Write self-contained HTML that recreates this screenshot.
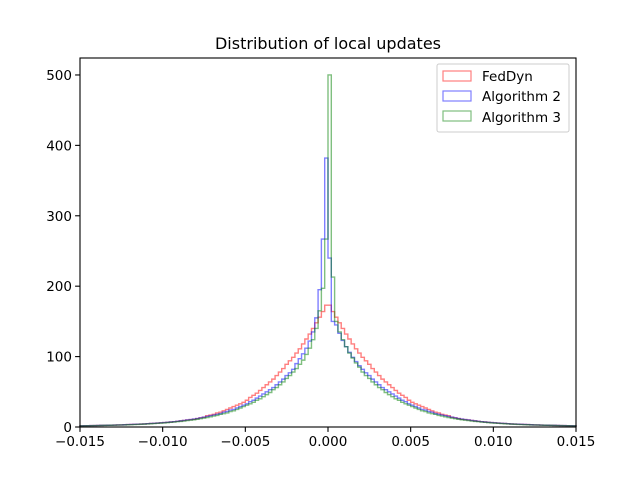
<!DOCTYPE html>
<html><head><meta charset="utf-8"><style>
body{margin:0;background:#fff;}
svg{font-family:"DejaVu Sans","Liberation Sans",sans-serif;}
</style></head><body>
<svg id="chart" width="640" height="480" xmlns="http://www.w3.org/2000/svg">
<rect width="640" height="480" fill="#fff"/>
<text x="328" y="49" font-size="16" text-anchor="middle">Distribution of local updates</text>
<g id="series"></g>
<g id="axes"></g>
<g>
<rect x="437" y="64" width="132" height="68" rx="2" fill="#fff" fill-opacity="0.8" stroke="#ccc"/>
<rect x="443" y="71" width="28" height="10" fill="none" stroke="rgba(255,0,0,0.5)" stroke-width="1.2"/>
<text x="482" y="81" font-size="13.5">FedDyn</text>
<rect x="443" y="91" width="28" height="10" fill="none" stroke="rgba(0,0,255,0.5)" stroke-width="1.2"/>
<text x="482" y="101" font-size="13.5">Algorithm 2</text>
<rect x="443" y="111" width="28" height="10" fill="none" stroke="rgba(0,128,0,0.5)" stroke-width="1.2"/>
<text x="482" y="122" font-size="13.5">Algorithm 3</text>
</g>
</svg>
<script>
// bins: 150 bins of width 0.0002 over [-0.015, 0.015]; halves listed from center outward
const binStart = -0.015;
const binWidth = 0.0002;
const redLeft = [173,164,156,148,140,132,125,118,111,105,99,94,89,83,78,73,68,64,60,56,52,48,45,42,38,35,33,31,29,27,25,23,21,20,18,17,16,14,13,12,11,10.5,10,9.3,8.7,8.1,7.6,7.1,6.7,6.3,6,5.6,5.3,5,4.7,4.4,4.2,4,3.8,3.6,3.4,3.2,3,2.9,2.8,2.6,2.5,2.4,2.3,2.2,2.1,2,1.9,1.8,1.7];
const redRight = [173,164,156,148,140,132,125,118,111,105,99,94,89,83,78,73,68,64,60,56,52,48,45,42,38,35,33,31,29,27,25,23,21,20,18,17,16,14,13,12,11,10.5,10,9.3,8.7,8.1,7.6,7.1,6.7,6.3,6,5.6,5.3,5,4.7,4.4,4.2,4,3.8,3.6,3.4,3.2,3,2.9,2.8,2.6,2.5,2.4,2.3,2.2,2.1,2,1.9,1.8,1.7];
const blueLeft = [382,267,195,155,135,122,112,104,97,90,82,77,73,68,64,60,56,53,50,47,44,41,38,36,33,31,29,27,25,24,22,21,19,18,17,16,15,14,13,12,11.3,10.6,10,9.3,8.7,8.1,7.6,7.1,6.7,6.3,6,5.6,5.3,5,4.7,4.4,4.2,4,3.8,3.6,3.4,3.2,3,2.9,2.8,2.6,2.5,2.4,2.3,2.2,2.1,2,1.9,1.8,1.7];
const blueRight = [240,150,145,133,123,114,106,99,93,87,82,77,73,68,64,60,56,53,50,47,44,41,38,36,33,31,29,27,25,24,22,21,19,18,17,16,15,14,13,12,11.3,10.6,10,9.3,8.7,8.1,7.6,7.1,6.7,6.3,6,5.6,5.3,5,4.7,4.4,4.2,4,3.8,3.6,3.4,3.2,3,2.9,2.8,2.6,2.5,2.4,2.3,2.2,2.1,2,1.9,1.8,1.7];
const greenLeft = [267,197,165,140,124,112,103,95,89,83,78,73,69,64,60,56,53,49,46,43,40,38,35,33,31,29,27,25,23,22,20,19,18,16.5,15.5,14.5,13.5,12.6,11.8,11,10.3,9.7,9.1,8.5,8,7.5,7,6.6,6.2,5.8,5.5,5.2,4.9,4.6,4.4,4.1,3.9,3.7,3.5,3.3,3.2,3.0,2.9,2.7,2.6,2.5,2.4,2.3,2.2,2.1,2,1.9,1.8,1.7,1.6];
const greenRight = [500,213,150,135,124,114,105,98,91,85,78,73,69,64,60,56,53,49,46,43,40,38,35,33,31,29,27,25,23,22,20,19,18,16.5,15.5,14.5,13.5,12.6,11.8,11,10.3,9.7,9.1,8.5,8,7.5,7,6.6,6.2,5.8,5.5,5.2,4.9,4.6,4.4,4.1,3.9,3.7,3.5,3.3,3.2,3.0,2.9,2.7,2.6,2.5,2.4,2.3,2.2,2.1,2,1.9,1.8,1.7,1.6];
const xTicks = [-0.015,-0.010,-0.005,0.000,0.005,0.010,0.015];
const xTickLabels = ["−0.015","−0.010","−0.005","0.000","0.005","0.010","0.015"];
const yTicks = [0,100,200,300,400,500];

const L=80,R=576,T=58,B=427, xMin=-0.015,xMax=0.015,yMax=524.1;
const sx=v=>L+(v-xMin)/(xMax-xMin)*(R-L);
const sy=v=>B-v/yMax*(B-T);
const NS="http://www.w3.org/2000/svg";
function mk(t,a){const e=document.createElementNS(NS,t);for(const k in a)e.setAttribute(k,a[k]);return e;}
const series=document.getElementById('series');
[[redLeft,redRight,'rgba(255,0,0,0.5)','feddyn-histogram'],[blueLeft,blueRight,'rgba(0,0,255,0.5)','algorithm-2-histogram'],[greenLeft,greenRight,'rgba(0,128,0,0.5)','algorithm-3-histogram']].forEach(s=>{
  const counts=s[0].slice().reverse().concat(s[1]);
  let d='M'+sx(binStart)+','+sy(0);
  counts.forEach((c,i)=>{const x0=sx(binStart+i*binWidth),x1=sx(binStart+(i+1)*binWidth);d+=' L'+x0+','+sy(c)+' L'+x1+','+sy(c);});
  d+=' L'+sx(binStart+counts.length*binWidth)+','+sy(0);
  const p=mk('path',{d:d,fill:'none',stroke:s[2],'stroke-width':1.4});
  
  
  series.appendChild(p);
});
const axes=document.getElementById('axes');
const frame=mk('rect',{x:L,y:T,width:R-L,height:B-T,fill:'none',stroke:'#000','stroke-width':1.1});


axes.appendChild(frame);
xTicks.forEach((v,i)=>{
  const g=mk('g',{});
  
  
  g.appendChild(mk('line',{x1:sx(v),x2:sx(v),y1:B,y2:B+4.9,stroke:'#000','stroke-width':1.1}));
  const t=mk('text',{x:sx(v),y:B+19,'font-size':13.5,'text-anchor':'middle'});t.textContent=xTickLabels[i];g.appendChild(t);
  axes.appendChild(g);
});
yTicks.forEach(v=>{
  const g=mk('g',{});
  
  
  g.appendChild(mk('line',{x1:L-4.9,x2:L,y1:sy(v),y2:sy(v),stroke:'#000','stroke-width':1.1}));
  const t=mk('text',{x:L-8,y:sy(v)+5,'font-size':13.5,'text-anchor':'end'});t.textContent=String(v);g.appendChild(t);
  axes.appendChild(g);
});
</script>
</body></html>
